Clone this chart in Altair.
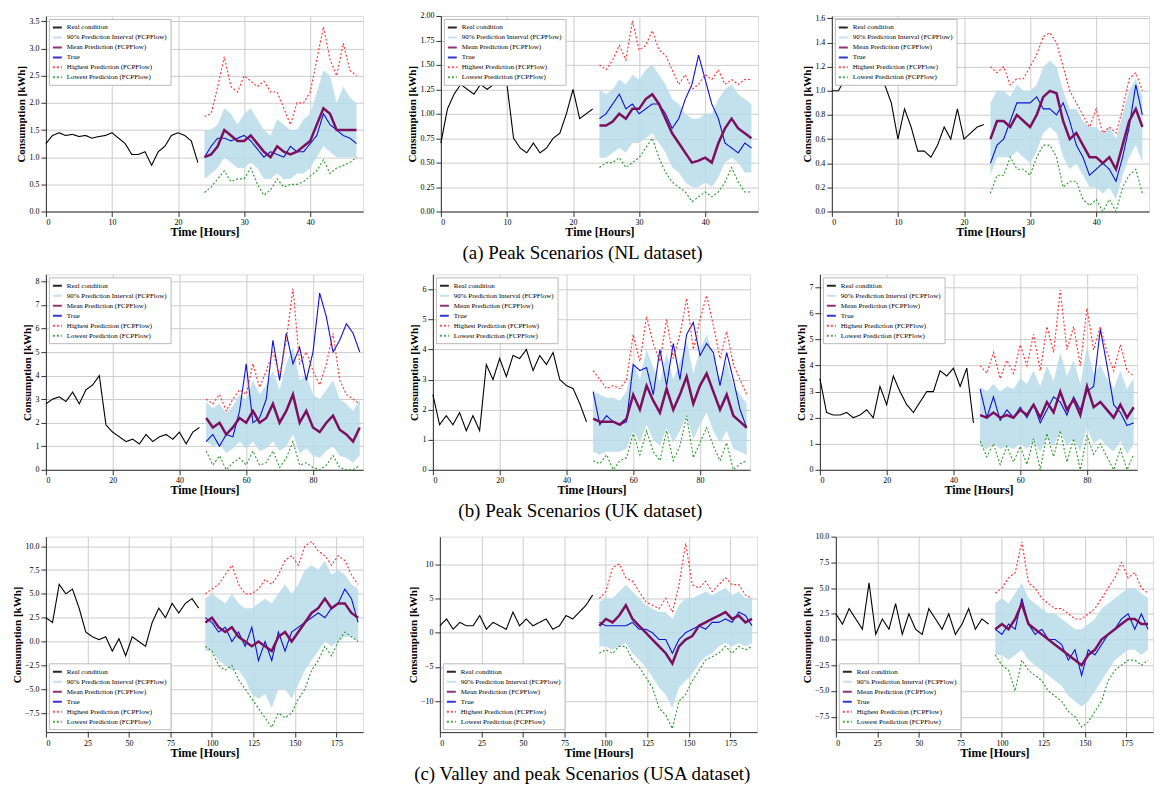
import altair as alt
import pandas as pd

SER = ["Real condition", "90% Prediction Interval (FCPFlow)", "Mean Prediction (FCPFlow)", "True",
       "Highest Prediction (FCPFlow)", "Lowest Prediction (FCPFlow)"]
COLS = ["#000000", "#b9dcea", "#7d0f5f", "#1010d0", "#ff3030", "#2a9a2a"]

# ---- Row a (NL), step 1 hour ----
a1_hist = [1.25,1.4,1.45,1.4,1.42,1.38,1.4,1.35,1.38,1.4,1.45,1.35,1.25,1.05,1.05,1.1,0.85,1.1,1.2,1.4,1.45,1.4,1.3,0.9]
a1_mean = [1.0,1.05,1.2,1.5,1.4,1.3,1.3,1.4,1.25,1.1,1.0,1.2,1.1,1.05,1.1,1.2,1.3,1.6,1.9,1.8,1.5,1.5,1.5,1.5]
a1_true = [1.0,1.2,1.35,1.35,1.3,1.35,1.4,1.3,1.15,1.0,1.1,1.05,1.0,1.2,1.1,1.1,1.25,1.4,1.8,1.6,1.5,1.4,1.35,1.25]
a1_hi = [1.5,1.5,1.6,1.9,1.8,1.6,1.8,1.9,1.7,1.5,1.4,1.7,1.6,1.5,1.5,1.7,1.8,2.2,2.6,2.5,2.0,2.3,2.1,2.0]
a1_lo = [0.6,0.7,0.8,1.0,0.9,0.8,0.8,0.9,0.8,0.6,0.6,0.7,0.6,0.6,0.7,0.7,0.8,1.0,1.2,1.1,1.0,1.0,1.0,1.0]
a1_max = [1.75,1.8,2.3,2.85,2.3,2.2,2.5,2.4,2.3,2.4,2.2,2.2,1.9,1.6,2.0,2.0,2.2,2.8,3.4,2.8,2.5,3.1,2.6,2.5]
a1_min = [0.35,0.45,0.6,0.75,0.55,0.6,0.6,0.8,0.5,0.3,0.4,0.6,0.45,0.5,0.5,0.55,0.65,0.75,0.95,0.7,0.8,0.85,0.9,1.0]

a2_hist = [0.7,1.05,1.2,1.3,1.25,1.2,1.3,1.25,1.3,1.3,1.3,0.75,0.65,0.6,0.7,0.6,0.65,0.75,0.8,1.0,1.25,0.95,1.0,1.05]
a2_mean = [0.88,0.88,0.92,1.0,0.95,1.05,1.05,1.15,1.2,1.1,0.95,0.8,0.7,0.6,0.5,0.52,0.55,0.5,0.7,0.85,0.95,0.85,0.8,0.75]
a2_true = [0.95,1.0,1.1,1.2,1.05,1.1,1.0,1.05,1.1,1.1,1.0,0.85,0.95,1.15,1.3,1.6,1.35,1.1,0.95,0.7,0.65,0.6,0.7,0.65]
a2_hi = [1.25,1.2,1.25,1.35,1.3,1.4,1.35,1.45,1.5,1.4,1.3,1.15,1.1,1.0,0.95,0.95,1.0,1.0,1.15,1.25,1.3,1.2,1.15,1.1]
a2_lo = [0.55,0.55,0.6,0.65,0.6,0.7,0.7,0.75,0.8,0.7,0.6,0.45,0.4,0.3,0.25,0.25,0.3,0.25,0.35,0.5,0.55,0.5,0.4,0.4]
a2_max = [1.5,1.45,1.55,1.7,1.55,1.95,1.65,1.7,1.85,1.65,1.6,1.45,1.3,1.4,1.25,1.3,1.4,1.35,1.45,1.3,1.35,1.3,1.35,1.35]
a2_min = [0.45,0.5,0.5,0.55,0.45,0.5,0.55,0.65,0.75,0.55,0.4,0.3,0.25,0.2,0.1,0.15,0.2,0.15,0.2,0.3,0.45,0.3,0.2,0.2]

a3_hist = [1.0,1.0,1.1,1.05,1.2,1.15,1.2,1.25,1.05,0.9,0.6,0.85,0.7,0.5,0.5,0.45,0.55,0.7,0.6,0.85,0.6,0.65,0.7,0.72]
a3_mean = [0.6,0.75,0.75,0.7,0.8,0.75,0.7,0.8,0.95,1.0,0.98,0.75,0.6,0.65,0.55,0.45,0.45,0.4,0.45,0.35,0.55,0.75,0.85,0.7]
a3_true = [0.4,0.55,0.6,0.75,0.9,0.9,0.9,0.95,0.85,0.85,0.8,0.9,0.75,0.55,0.45,0.3,0.35,0.4,0.35,0.25,0.45,0.7,1.05,0.8]
a3_hi = [0.9,1.0,1.0,0.95,1.05,1.0,1.0,1.05,1.2,1.25,1.2,1.0,0.85,0.85,0.75,0.7,0.7,0.65,0.7,0.6,0.8,1.0,1.1,0.95]
a3_lo = [0.3,0.45,0.45,0.45,0.5,0.45,0.4,0.5,0.65,0.7,0.65,0.45,0.35,0.4,0.3,0.2,0.2,0.15,0.2,0.1,0.3,0.45,0.55,0.4]
a3_max = [1.2,1.15,1.2,1.05,1.1,1.1,1.2,1.3,1.45,1.48,1.4,1.2,1.0,0.9,0.8,0.7,0.85,0.65,0.7,0.65,0.85,1.1,1.15,1.0]
a3_min = [0.15,0.3,0.3,0.45,0.35,0.35,0.3,0.45,0.55,0.55,0.45,0.2,0.25,0.25,0.1,0.05,0.1,0.0,0.1,0.0,0.2,0.3,0.35,0.15]

# ---- Row b (UK), step 2 hours ----
b1_hist = [2.8,3.0,3.1,2.9,3.3,2.8,3.4,3.6,4.0,1.9,1.6,1.4,1.2,1.3,1.1,1.5,1.2,1.4,1.5,1.3,1.6,1.1,1.6,1.8]
b1_mean = [2.2,1.8,2.0,1.5,1.8,2.2,2.0,2.5,2.0,2.2,2.8,2.0,2.5,3.2,2.0,2.5,1.8,1.6,2.0,2.3,1.7,1.5,1.2,1.8]
b1_true = [1.2,1.5,1.0,1.5,1.4,2.5,4.5,2.0,2.2,3.0,5.5,3.8,5.8,4.5,5.2,3.8,5.0,7.5,6.5,5.0,5.5,6.2,5.8,5.0]
b1_hi = [2.9,2.6,2.8,2.4,2.7,3.2,3.0,3.8,3.2,3.6,4.2,3.4,4.5,5.2,3.8,4.0,3.2,3.0,3.4,3.8,3.0,2.8,2.5,3.0]
b1_lo = [1.2,1.0,1.1,0.7,0.9,1.2,0.9,1.2,0.8,0.9,1.2,0.8,1.0,1.5,0.7,0.9,0.6,0.5,0.8,1.0,0.6,0.5,0.3,0.6]
b1_max = [3.0,2.8,3.2,2.5,3.0,3.4,3.2,4.5,3.5,4.2,5.0,4.0,5.5,7.7,4.5,5.0,4.2,3.6,4.5,5.8,3.8,3.2,3.0,2.8]
b1_min = [0.8,0.2,0.6,0.0,0.3,0.5,0.2,0.8,0.2,0.3,0.8,0.1,0.5,1.2,0.2,0.3,0.1,0.0,0.2,0.6,0.1,0.0,0.0,0.2]

b2_hist = [2.5,1.5,1.8,1.5,1.9,1.3,1.8,1.3,3.5,3.0,3.7,3.1,3.8,3.7,4.0,3.3,3.8,3.5,3.9,3.0,2.8,2.7,2.2,1.6]
b2_mean = [1.7,1.6,1.6,1.6,1.5,1.7,2.5,2.0,2.8,2.3,1.9,2.7,2.0,2.5,3.1,2.2,2.8,3.2,2.6,2.0,2.5,1.8,1.6,1.4]
b2_true = [2.6,1.5,1.8,1.6,1.5,1.6,3.5,3.3,3.4,2.5,4.0,2.8,4.2,3.0,4.5,4.9,3.8,4.2,3.9,2.8,3.9,3.0,2.0,1.4]
b2_hi = [2.6,2.5,2.4,2.4,2.3,2.6,3.6,3.0,4.0,3.4,2.9,3.9,3.0,3.6,4.3,3.2,4.0,4.5,3.8,3.0,3.6,2.8,2.5,2.2]
b2_lo = [0.6,0.5,0.6,0.6,0.6,0.7,1.3,0.9,1.5,1.0,0.8,1.4,0.9,1.3,1.8,1.0,1.5,1.9,1.3,0.9,1.3,0.7,0.6,0.5]
b2_max = [3.3,3.0,2.7,2.8,2.7,3.0,4.5,3.6,5.1,4.2,3.6,5.0,3.7,4.5,5.7,4.0,5.0,5.8,4.8,3.7,4.6,3.5,3.0,2.5]
b2_min = [0.3,0.2,0.5,0.0,0.3,0.4,1.2,0.5,1.3,0.6,0.3,1.3,0.3,0.8,1.8,0.4,0.9,1.4,0.8,0.3,0.9,0.0,0.2,0.3]

b3_hist = [3.5,2.2,2.1,2.1,2.2,2.0,2.1,2.3,2.0,3.2,2.5,3.6,3.0,2.5,2.2,2.6,3.0,3.0,3.8,3.6,3.9,3.2,3.9,1.8]
b3_mean = [2.1,2.0,2.2,2.0,2.1,2.0,2.3,2.1,2.5,2.0,2.6,2.2,3.0,2.3,2.7,2.1,3.2,2.4,2.6,2.3,2.0,2.5,2.0,2.4]
b3_true = [3.1,2.0,2.8,1.9,2.3,2.0,2.4,2.0,2.5,1.8,2.3,2.8,2.6,2.1,2.8,2.3,3.0,3.2,5.4,4.0,2.5,2.2,1.7,1.8]
b3_hi = [3.2,3.0,3.3,3.0,3.2,3.1,3.5,3.3,3.8,3.2,4.0,3.4,4.5,3.6,4.2,3.3,4.7,3.7,4.0,3.5,3.1,3.8,3.1,3.5]
b3_lo = [0.9,0.8,1.0,0.8,0.9,0.8,1.0,0.8,1.1,0.7,1.2,0.9,1.5,0.9,1.2,0.7,1.6,1.0,1.2,0.9,0.7,1.1,0.6,1.0]
b3_max = [4.0,3.7,4.5,3.5,4.2,3.7,4.8,4.0,5.2,3.8,5.5,4.5,6.9,4.6,5.5,4.0,6.2,4.6,5.5,4.5,3.8,4.8,3.8,3.6]
b3_min = [1.1,0.5,1.0,0.2,0.9,0.3,0.9,0.2,1.2,0.0,1.4,0.5,1.5,0.3,1.2,0.0,1.3,0.6,1.0,0.5,0.0,0.8,0.0,0.6]

# ---- Row c (USA), step 4 hours ----
c1_hist = [2.5,2.0,6.0,5.0,5.5,3.5,1.0,0.5,0.2,0.5,-1.0,0.3,-1.5,0.5,0.0,-0.5,2.0,3.5,2.5,4.0,3.0,4.0,4.5,3.5]
c1_mean = [2.0,2.5,1.5,1.0,1.5,0.5,0.0,-0.5,0.0,-0.5,-1.0,0.5,1.0,0.0,1.0,2.0,3.0,3.5,4.5,3.5,4.0,4.0,3.0,2.5]
c1_true = [2.5,2.0,1.0,1.5,0.0,1.0,-0.5,1.5,-2.0,0.0,-2.0,1.0,-1.0,1.0,1.5,2.0,2.5,3.0,2.5,3.5,4.0,5.5,4.5,2.0]
c1_hi = [4.5,5.0,4.5,4.0,5.0,4.0,3.5,3.5,4.0,4.5,4.0,5.0,6.0,5.0,6.0,7.5,8.0,7.5,8.5,7.0,7.5,7.0,6.0,5.5]
c1_lo = [-1.0,-1.0,-2.0,-2.5,-3.0,-3.0,-4.0,-5.5,-6.0,-5.5,-7.0,-5.0,-5.0,-6.0,-4.5,-3.0,-2.0,-1.0,0.0,-0.5,0.0,0.5,0.5,0.0]
c1_max = [5.0,5.5,6.0,7.0,8.0,6.0,5.0,5.0,5.5,6.5,6.0,7.0,8.5,9.0,8.0,10.0,10.5,9.5,9.0,8.0,9.0,8.5,7.0,6.0]
c1_min = [-0.5,-1.0,-2.5,-3.0,-2.5,-4.0,-5.0,-6.0,-7.0,-8.0,-9.0,-7.5,-8.0,-7.5,-6.0,-5.0,-3.0,-2.0,-0.5,-1.5,0.0,1.0,0.5,0.0]

c2_hist = [1.0,2.0,0.5,1.5,1.0,1.0,2.5,0.5,1.5,1.0,0.5,3.0,1.0,2.0,1.0,1.5,2.0,0.5,1.0,2.5,2.0,3.0,4.0,5.5]
c2_mean = [1.0,2.0,1.5,2.5,4.0,2.0,1.0,0.0,-1.0,-2.0,-3.0,-4.5,-2.0,-1.0,-0.5,1.0,1.5,2.0,2.5,3.0,2.0,2.5,1.5,2.0]
c2_true = [1.5,1.0,1.0,1.0,1.0,1.5,0.5,0.5,0.0,-1.0,-1.0,-3.0,-1.0,0.0,0.5,1.0,0.5,1.5,1.5,2.0,1.5,3.0,2.5,1.0]
c2_hi = [4.5,5.0,5.0,6.0,7.0,6.0,5.0,4.0,3.5,3.0,3.0,2.0,4.0,5.0,5.0,5.5,6.0,5.5,6.0,6.5,5.5,6.0,5.0,5.0]
c2_lo = [-2.0,-2.0,-2.5,-2.0,-1.5,-3.0,-4.0,-5.0,-6.5,-8.0,-9.0,-11.0,-8.0,-7.0,-6.0,-4.5,-3.5,-3.0,-2.0,-1.5,-2.0,-1.5,-2.0,-1.5]
c2_max = [5.0,6.0,9.5,10.0,8.0,7.5,6.0,4.5,4.0,3.5,5.0,3.0,7.0,13.0,7.0,6.5,7.5,6.0,7.0,8.0,7.0,7.0,5.5,5.0]
c2_min = [-3.0,-2.5,-3.0,-2.0,-2.0,-4.0,-5.0,-6.5,-8.0,-11.0,-12.0,-14.0,-10.0,-9.0,-7.0,-5.5,-4.0,-3.5,-3.0,-2.0,-3.0,-2.0,-2.5,-2.0]

c3_hist = [2.5,1.5,3.0,2.0,1.0,5.5,0.5,2.0,1.0,3.5,0.5,2.5,1.0,0.5,3.0,2.0,1.0,2.5,0.5,1.5,3.0,1.0,2.0,1.5]
c3_mean = [1.0,1.5,1.0,2.0,3.5,1.5,1.0,0.5,0.0,-0.5,-1.0,-1.5,-2.0,-2.5,-1.5,-1.0,0.0,0.5,1.0,1.5,2.0,2.0,1.5,1.5]
c3_true = [1.0,0.5,1.5,1.0,4.0,1.5,0.5,1.0,0.0,0.0,-0.5,-2.0,-1.0,-3.5,-1.0,-1.5,-0.5,0.5,1.0,2.0,2.5,1.0,2.5,1.0]
c3_hi = [3.5,4.0,3.5,4.5,5.5,4.0,3.5,3.0,2.5,2.5,2.0,1.5,1.0,1.0,1.5,2.0,3.0,3.5,4.0,4.5,5.0,5.0,4.5,4.0]
c3_lo = [-1.5,-1.5,-2.0,-1.5,-1.0,-2.0,-2.5,-3.0,-3.5,-4.0,-4.5,-5.5,-6.0,-6.5,-6.0,-5.0,-4.0,-3.0,-2.0,-1.5,-1.0,-1.0,-1.5,-1.0]
c3_max = [4.5,5.0,6.0,6.5,9.5,5.5,5.0,4.0,3.5,3.0,3.0,2.5,2.0,2.0,2.5,3.0,4.0,5.0,6.0,7.5,6.0,6.5,5.0,4.5]
c3_min = [-1.5,-2.5,-3.0,-5.0,-2.0,-3.0,-3.5,-4.0,-5.0,-5.5,-6.0,-7.0,-7.5,-8.5,-8.0,-7.0,-6.0,-4.0,-3.0,-2.5,-2.0,-2.0,-2.5,-2.0]

FONT = "Liberation Serif"


def panel(hist, mean, true, hi, lo, mx, mn, step, ydom, ytick, xdom, xtick, yfmt, lorient):
    n = len(hist)
    th = [i * step for i in range(n)]
    tf = [(n + i) * step for i in range(len(mean))]
    rows = [dict(t=t, v=v, s=SER[0]) for t, v in zip(th, hist)]
    for name, arr in [(SER[3], true), (SER[4], mx), (SER[5], mn)]:
        rows += [dict(t=t, v=v, s=name) for t, v in zip(tf, arr)]
    lines = pd.DataFrame(rows)
    meandf = pd.DataFrame(dict(t=tf, v=mean, s=SER[2]))
    band = pd.DataFrame(dict(t=tf, lo=lo, hi=hi, s=SER[1]))

    xs = alt.Scale(domain=xdom, nice=False, zero=False)
    ys = alt.Scale(domain=ydom, nice=False, zero=False)
    cs = alt.Scale(domain=SER, range=COLS)
    ds = alt.Scale(domain=SER, range=[[1, 0], [1, 0], [1, 0], [1, 0], [2, 2], [2, 2]])
    leg = alt.Legend(title=None, orient=lorient, offset=3, labelFont=FONT, labelFontSize=7,
                     symbolSize=80, symbolStrokeWidth=2, rowPadding=0, fillColor="white",
                     strokeColor="#bbbbbb", padding=3, labelLimit=200, symbolType="stroke")
    xa = alt.Axis(title="Time [Hours]", values=xtick, grid=True, gridColor="#cccccc", labelOverlap=False,
                  titleFont=FONT, titleFontSize=12, labelFont=FONT, labelFontSize=8,
                  titlePadding=0, tickColor="#333", domainColor="#333")
    ya = alt.Axis(title="Consumption [kWh]", values=ytick, grid=True, gridColor="#cccccc", labelOverlap=False,
                  format=yfmt, titleFont=FONT, titleFontSize=11, labelFont=FONT, labelFontSize=8,
                  titlePadding=2, tickColor="#333", domainColor="#333")
    X = alt.X("t:Q", scale=xs, axis=xa)
    area = alt.Chart(band).mark_area(opacity=0.85).encode(
        x=X, y=alt.Y("lo:Q", scale=ys, axis=ya), y2="hi:Q",
        color=alt.Color("s:N", scale=cs, legend=leg))
    ln = alt.Chart(lines).mark_line(strokeWidth=1.1).encode(
        x=X, y=alt.Y("v:Q", scale=ys, axis=ya), detail="s:N",
        color=alt.Color("s:N", scale=cs, legend=leg),
        strokeDash=alt.StrokeDash("s:N", scale=ds, legend=None))
    mln = alt.Chart(meandf).mark_line(strokeWidth=2.5).encode(
        x=X, y=alt.Y("v:Q", scale=ys, axis=ya),
        color=alt.Color("s:N", scale=cs, legend=leg))
    return alt.layer(area, ln, mln).properties(width=318, height=196)


def row(panels, caption):
    return alt.hconcat(*panels, spacing=42).resolve_scale(color="independent", strokeDash="independent").properties(
        title=alt.TitleParams(caption, orient="bottom", font=FONT, fontSize=19, fontWeight="normal", anchor="middle", offset=6))


xa_t = [0, 10, 20, 30, 40]
xb_t = [0, 20, 40, 60, 80]
xc_t = [0, 25, 50, 75, 100, 125, 150, 175]
ra = row([
    panel(a1_hist, a1_mean, a1_true, a1_hi, a1_lo, a1_max, a1_min, 1, [0, 3.6], [0, .5, 1, 1.5, 2, 2.5, 3, 3.5], [0, 48], xa_t, ".1f", "top-left"),
    panel(a2_hist, a2_mean, a2_true, a2_hi, a2_lo, a2_max, a2_min, 1, [0, 2.0], [0, .25, .5, .75, 1, 1.25, 1.5, 1.75, 2.0], [0, 48], xa_t, ".2f", "top-left"),
    panel(a3_hist, a3_mean, a3_true, a3_hi, a3_lo, a3_max, a3_min, 1, [0, 1.62], [0, .2, .4, .6, .8, 1, 1.2, 1.4, 1.6], [0, 48], xa_t, ".1f", "top-left"),
], "(a) Peak Scenarios (NL dataset)")
rb = row([
    panel(b1_hist, b1_mean, b1_true, b1_hi, b1_lo, b1_max, b1_min, 2, [0, 8.3], [0, 1, 2, 3, 4, 5, 6, 7, 8], [0, 95], xb_t, "d", "top-left"),
    panel(b2_hist, b2_mean, b2_true, b2_hi, b2_lo, b2_max, b2_min, 2, [0, 6.5], [0, 1, 2, 3, 4, 5, 6], [0, 95], xb_t, "d", "top-left"),
    panel(b3_hist, b3_mean, b3_true, b3_hi, b3_lo, b3_max, b3_min, 2, [0, 7.5], [0, 1, 2, 3, 4, 5, 6, 7], [0, 95], xb_t, "d", "top-left"),
], "(b) Peak Scenarios (UK dataset)")
rc = row([
    panel(c1_hist, c1_mean, c1_true, c1_hi, c1_lo, c1_max, c1_min, 4, [-9.5, 11], [-7.5, -5, -2.5, 0, 2.5, 5, 7.5, 10], [0, 191], xc_t, ".1f", "bottom-left"),
    panel(c2_hist, c2_mean, c2_true, c2_hi, c2_lo, c2_max, c2_min, 4, [-14.5, 14], [-10, -5, 0, 5, 10], [0, 191], xc_t, "d", "bottom-left"),
    panel(c3_hist, c3_mean, c3_true, c3_hi, c3_lo, c3_max, c3_min, 4, [-9, 10], [-7.5, -5, -2.5, 0, 2.5, 5, 7.5, 10], [0, 191], xc_t, ".1f", "bottom-left"),
], "(c) Valley and peak Scenarios (USA dataset)")

chart = alt.vconcat(ra, rb, rc, spacing=10).resolve_scale(color="independent", strokeDash="independent").configure_view(
    stroke="#333").configure(background="white", padding=2)
chart.save("out.html", embed_options={"renderer": "svg", "actions": False})
